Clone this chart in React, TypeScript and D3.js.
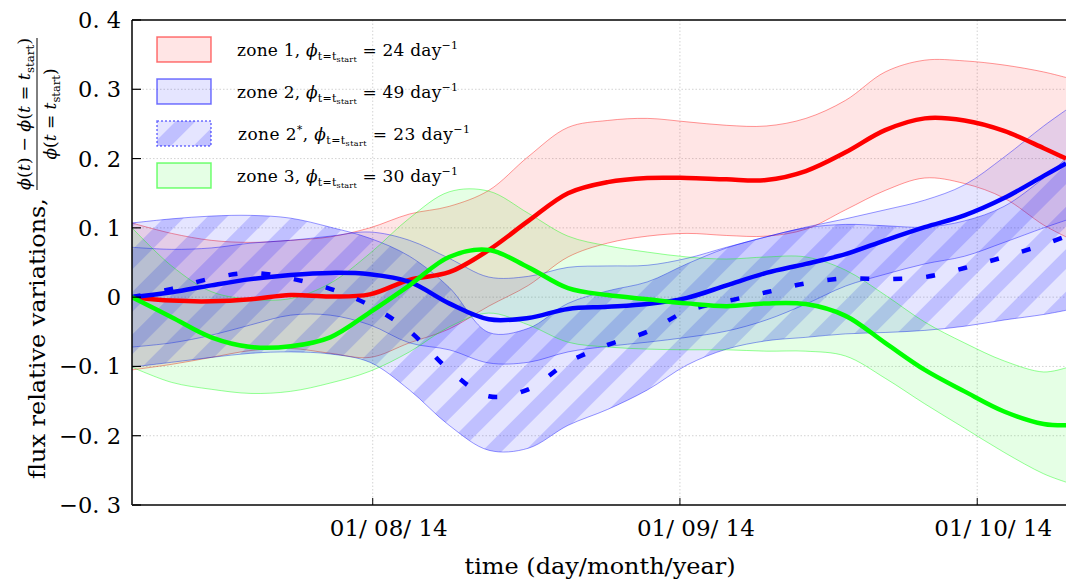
import React from "react";
import * as d3 from "d3";

const W = 1066;
const H = 582;
const PLOT = { left: 132, right: 1066, top: 20, bottom: 505 };

// time span covered by the x axis
const T0 = new Date(2014, 6, 7, 17);
const T1 = new Date(2014, 9, 9, 23);

// sample times, in days after T0
const sampleDays = [0, 4, 8, 12, 16, 20, 24, 28, 32, 36, 40, 44, 48, 52, 56, 60, 64, 68, 72, 76, 80, 84, 88, 92, 94.25];

// zone 1
const zone1Mean = [0, -0.005, -0.006, -0.003, 0.003, 0.001, 0.004, 0.025, 0.036, 0.068, 0.11, 0.15, 0.166, 0.172, 0.172, 0.17, 0.169, 0.182, 0.209, 0.241, 0.258, 0.255, 0.24, 0.215, 0.2];
const zone1Upper = [0.107, 0.092, 0.082, 0.079, 0.082, 0.087, 0.1, 0.12, 0.131, 0.154, 0.203, 0.245, 0.255, 0.258, 0.253, 0.248, 0.247, 0.258, 0.284, 0.325, 0.342, 0.341, 0.335, 0.325, 0.317];
const zone1Lower = [-0.105, -0.097, -0.087, -0.077, -0.074, -0.081, -0.087, -0.066, -0.046, -0.013, 0.017, 0.058, 0.078, 0.088, 0.092, 0.089, 0.088, 0.098, 0.126, 0.154, 0.172, 0.164, 0.143, 0.104, 0.087];

// zone 2
const zone2Mean = [0, 0.007, 0.017, 0.026, 0.032, 0.035, 0.033, 0.022, -0.009, -0.032, -0.03, -0.017, -0.014, -0.01, -0.001, 0.017, 0.035, 0.048, 0.062, 0.082, 0.101, 0.118, 0.143, 0.175, 0.193];
const zone2Upper = [0.072, 0.069, 0.071, 0.078, 0.082, 0.088, 0.094, 0.082, 0.056, 0.029, 0.03, 0.043, 0.045, 0.046, 0.056, 0.072, 0.087, 0.101, 0.113, 0.126, 0.14, 0.162, 0.202, 0.247, 0.27];
const zone2Lower = [-0.072, -0.066, -0.055, -0.04, -0.026, -0.026, -0.04, -0.066, -0.076, -0.095, -0.094, -0.079, -0.071, -0.065, -0.058, -0.049, -0.033, -0.01, 0.016, 0.033, 0.048, 0.059, 0.079, 0.1, 0.111];

// zone 2*
const zone2sMean = [0, 0.012, 0.027, 0.035, 0.027, 0.012, -0.012, -0.049, -0.105, -0.143, -0.133, -0.094, -0.069, -0.05, -0.02, -0.006, 0.007, 0.02, 0.027, 0.026, 0.029, 0.042, 0.058, 0.076, 0.088];
const zone2sUpper = [0.107, 0.113, 0.117, 0.118, 0.114, 0.101, 0.085, 0.059, 0.014, -0.051, -0.045, -0.009, 0.009, 0.022, 0.048, 0.071, 0.087, 0.1, 0.105, 0.103, 0.101, 0.11, 0.131, 0.172, 0.2];
const zone2sLower = [-0.101, -0.094, -0.087, -0.081, -0.079, -0.082, -0.094, -0.134, -0.185, -0.221, -0.218, -0.185, -0.162, -0.134, -0.098, -0.075, -0.063, -0.058, -0.053, -0.051, -0.048, -0.042, -0.033, -0.025, -0.019];

// zone 3
const zone3Mean = [0, -0.029, -0.058, -0.072, -0.071, -0.058, -0.022, 0.017, 0.058, 0.068, 0.043, 0.013, 0.003, -0.003, -0.009, -0.013, -0.009, -0.01, -0.027, -0.066, -0.105, -0.136, -0.165, -0.183, -0.185];
const zone3Upper = [0.1, 0.045, 0.008, -0.003, -0.002, 0.02, 0.063, 0.114, 0.152, 0.153, 0.121, 0.088, 0.074, 0.065, 0.058, 0.055, 0.058, 0.058, 0.039, 0.003, -0.036, -0.066, -0.092, -0.108, -0.102];
const zone3Lower = [-0.101, -0.123, -0.133, -0.139, -0.136, -0.124, -0.107, -0.079, -0.043, -0.023, -0.04, -0.065, -0.072, -0.075, -0.076, -0.076, -0.078, -0.078, -0.085, -0.117, -0.154, -0.189, -0.224, -0.255, -0.267];

const yTicks = [-0.3, -0.2, -0.1, 0, 0.1, 0.2, 0.3, 0.4];
const xTicks = [new Date(2014, 7, 1), new Date(2014, 8, 1), new Date(2014, 9, 1)];

const legendRows = [
  { name: "zone 1", star: false, value: 24, color: "255,0,0", hatch: false, width: 221 },
  { name: "zone 2", star: false, value: 49, color: "0,0,255", hatch: false, width: 221 },
  { name: "zone 2", star: true, value: 23, color: "0,0,255", hatch: true, width: 232 },
  { name: "zone 3", star: false, value: 30, color: "0,255,0", hatch: false, width: 221 },
];

const FONT = "'DejaVu Serif', 'Liberation Serif', serif";

const x = d3.scaleTime().domain([T0, T1]).range([PLOT.left, PLOT.right]);
const y = d3.scaleLinear().domain([-0.3, 0.4]).range([PLOT.bottom, PLOT.top]);

const dates = sampleDays.map((d) => new Date(T0.getTime() + d * 86400000));

type Pt = { t: Date; v: number };
const toPts = (vals: number[]): Pt[] => vals.map((v, i) => ({ t: dates[i], v }));
const toBand = (lo: number[], hi: number[]) => lo.map((l, i) => ({ t: dates[i], lo: l, hi: hi[i] }));

const curve = d3.curveCatmullRom.alpha(0.5);
const line = d3.line<Pt>().x((d) => x(d.t)).y((d) => y(d.v)).curve(curve);
const area = d3
  .area<{ t: Date; lo: number; hi: number }>()
  .x((d) => x(d.t))
  .y0((d) => y(d.lo))
  .y1((d) => y(d.hi))
  .curve(curve);

const bands = [
  { lo: zone1Lower, hi: zone1Upper, color: "255,0,0", hatch: false },
  { lo: zone2Lower, hi: zone2Upper, color: "0,0,255", hatch: false },
  { lo: zone2sLower, hi: zone2sUpper, color: "0,0,255", hatch: true },
  { lo: zone3Lower, hi: zone3Upper, color: "0,255,0", hatch: false },
];

const means = [
  { vals: zone1Mean, color: "#ff0000", dash: undefined as string | undefined },
  { vals: zone2Mean, color: "#0000ff", dash: undefined },
  { vals: zone2sMean, color: "#0000ff", dash: "9 24" },
  { vals: zone3Mean, color: "#00ff00", dash: undefined },
];

const fmtTick = (v: number) => {
  if (Math.abs(v) < 1e-9) return "0";
  const s = Math.abs(v).toFixed(1).replace(".", ". ");
  return v < 0 ? "\u2212" + s : s;
};
const fmtDate = d3.timeFormat("%d/ %m/ %y");

export default function App() {
  const legendX = 157;
  const legendY0 = 37;
  const legendStep = 42;
  return (
    <svg
      width={W}
      height={H}
      viewBox={`0 0 ${W} ${H}`}
      style={{ position: "absolute", left: 0, top: 0, background: "#fff" }}
      fontFamily={FONT}
    >
      <defs>
        <clipPath id="plotClip">
          <rect x={PLOT.left} y={PLOT.top} width={PLOT.right - PLOT.left} height={PLOT.bottom - PLOT.top} />
        </clipPath>
        <pattern id="hatch" patternUnits="userSpaceOnUse" width={30} height={30} patternTransform="rotate(45)">
          <rect x={0} y={0} width={14} height={30} fill="rgba(0,0,255,0.16)" />
        </pattern>
      </defs>

      {/* grid */}
      <g stroke="#c8c8c8" strokeWidth={0.8} strokeDasharray="1.5 2">
        {yTicks.slice(1, -1).map((t) => (
          <line key={t} x1={PLOT.left} x2={PLOT.right} y1={y(t)} y2={y(t)} />
        ))}
        {xTicks.map((t) => (
          <line key={+t} x1={x(t)} x2={x(t)} y1={PLOT.top} y2={PLOT.bottom} />
        ))}
      </g>

      {/* uncertainty bands */}
      <g clipPath="url(#plotClip)">
        {bands.map((b, i) => {
          const d = area(toBand(b.lo, b.hi)) || "";
          return (
            <g key={i}>
              <path d={d} fill={`rgba(${b.color},0.1)`} stroke="none" />
              {b.hatch && <path d={d} fill="url(#hatch)" stroke="none" />}
              <path d={line(toPts(b.hi)) || ""} fill="none" stroke={`rgba(${b.color},0.45)`} strokeWidth={0.9} />
              <path d={line(toPts(b.lo)) || ""} fill="none" stroke={`rgba(${b.color},0.45)`} strokeWidth={0.9} />
            </g>
          );
        })}
        {means.map((m, i) => (
          <path
            key={i}
            d={line(toPts(m.vals)) || ""}
            fill="none"
            stroke={m.color}
            strokeWidth={4.5}
            strokeDasharray={m.dash}
            strokeLinejoin="round"
          />
        ))}
      </g>

      {/* axes frame */}
      <line x1={PLOT.left} x2={PLOT.right} y1={PLOT.top} y2={PLOT.top} stroke="#000" strokeWidth={1.5} />
      <line x1={PLOT.left} x2={PLOT.left} y1={PLOT.top} y2={PLOT.bottom} stroke="#000" strokeWidth={1.5} />
      <line x1={PLOT.left} x2={PLOT.right} y1={PLOT.bottom} y2={PLOT.bottom} stroke="#444" strokeWidth={2} />

      {/* y ticks */}
      {yTicks.map((t) => (
        <g key={t}>
          <line x1={PLOT.left} x2={PLOT.left + 9} y1={y(t)} y2={y(t)} stroke="#000" strokeWidth={1.2} />
          <text x={121} y={y(t) + 8} textAnchor="end" fontSize={22.5} fill="#000">
            {fmtTick(t)}
          </text>
        </g>
      ))}

      {/* x ticks */}
      {xTicks.map((t) => (
        <g key={+t}>
          <line x1={x(t)} x2={x(t)} y1={PLOT.bottom} y2={PLOT.bottom - 7} stroke="#000" strokeWidth={1} />
          <text x={x(t) + 16} y={536} textAnchor="middle" fontSize={23} fill="#000">
            {fmtDate(t)}
          </text>
        </g>
      ))}

      <text x={600} y={574} textAnchor="middle" fontSize={23} textLength={271} lengthAdjust="spacingAndGlyphs" fill="#000">
        time (day/month/year)
      </text>

      {/* y axis title with the normalised flux fraction */}
      <g transform="translate(45,479) rotate(-90)" fill="#000">
        <text x={0} y={0} fontSize={23} textLength={281} lengthAdjust="spacingAndGlyphs">
          flux relative variations,
        </text>
        <g fontSize={17}>
          <text x={365} y={-15} textAnchor="middle" textLength={152} lengthAdjust="spacingAndGlyphs">
            <tspan fontStyle="italic">ϕ</tspan>(<tspan fontStyle="italic">t</tspan>) − <tspan fontStyle="italic">ϕ</tspan>(
            <tspan fontStyle="italic">t</tspan> = <tspan fontStyle="italic">t</tspan>
            <tspan fontSize={11.5} dy={4}>start</tspan>
            <tspan dy={-4}>)</tspan>
          </text>
          <line x1={289} x2={441} y1={-8} y2={-8} stroke="#000" strokeWidth={1} />
          <text x={365} y={11} textAnchor="middle">
            <tspan fontStyle="italic">ϕ</tspan>(<tspan fontStyle="italic">t</tspan> = <tspan fontStyle="italic">t</tspan>
            <tspan fontSize={11.5} dy={4}>start</tspan>
            <tspan dy={-4}>)</tspan>
          </text>
        </g>
      </g>

      {/* legend */}
      {legendRows.map((r, i) => {
        const ry = legendY0 + i * legendStep;
        return (
          <g key={i}>
            <rect x={legendX} y={ry} width={54} height={25} fill={`rgba(${r.color},0.1)`} />
            {r.hatch && <rect x={legendX} y={ry} width={54} height={25} fill="url(#hatch)" />}
            <rect
              x={legendX}
              y={ry}
              width={54}
              height={25}
              fill="none"
              stroke={`rgba(${r.color},0.55)`}
              strokeWidth={1.5}
              strokeDasharray={r.hatch ? "2 2" : undefined}
            />
            <text x={r.star ? 238 : 237} y={ry + 19} fontSize={17} fill="#000" textLength={r.width} lengthAdjust="spacing">
              {r.name}
              {r.star && (
                <tspan fontSize={10.5} dy={-7}>
                  *
                </tspan>
              )}
              <tspan dy={r.star ? 7 : 0}>,  </tspan>
              <tspan fontStyle="italic">ϕ</tspan>
              <tspan fontSize={11} dy={4}>t=t</tspan>
              <tspan fontSize={8} dy={2}>start</tspan>
              <tspan dy={-6}>{` = ${r.value} day`}</tspan>
              <tspan fontSize={11} dy={-7}>−1</tspan>
            </text>
          </g>
        );
      })}
    </svg>
  );
}
